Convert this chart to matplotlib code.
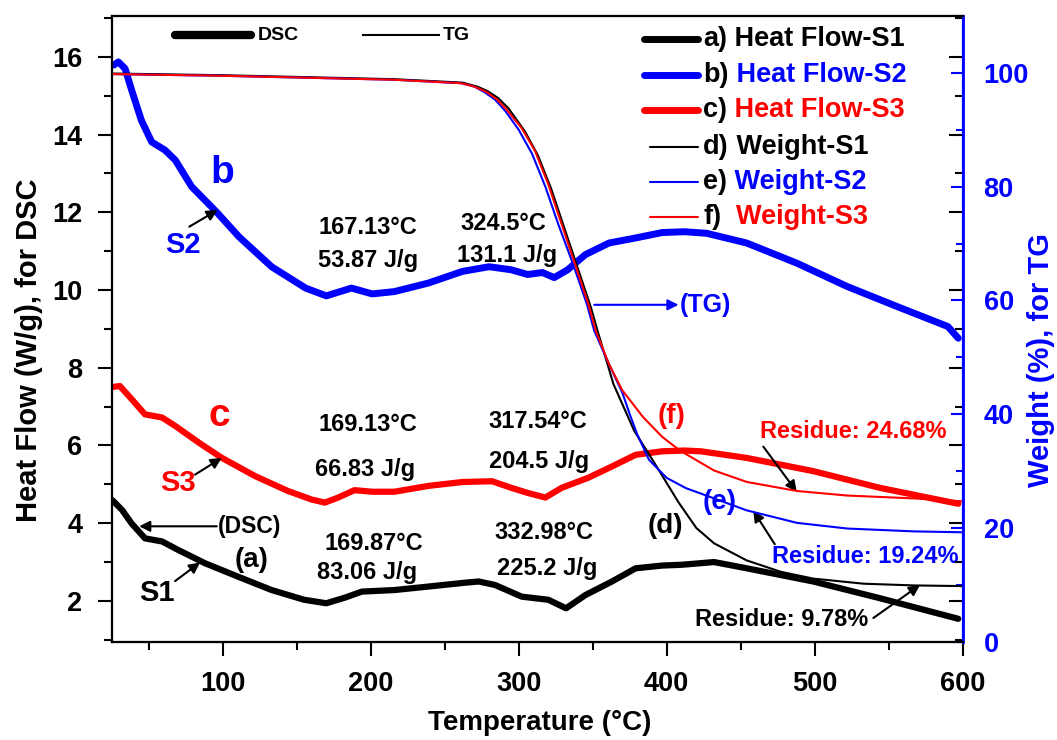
import matplotlib
matplotlib.use('Agg')
import matplotlib.pyplot as plt
from matplotlib.ticker import MultipleLocator

plt.rcParams['font.family'] = ['Liberation Sans', 'DejaVu Sans']
plt.rcParams['font.weight'] = 'bold'
plt.rcParams['axes.labelweight'] = 'bold'

BLUE = '#0000ff'
RED = '#ff0000'

# DSC heat flow (W/g)
t_dsc1 = [25.5, 32, 38.5, 47.5, 59, 70, 88, 110, 133, 155, 170, 183, 194, 216, 239, 264, 273, 284,
          302, 320, 332, 345, 363, 379, 397, 410, 432, 454, 499, 544, 597]
hf_s1 = [4.59, 4.34, 3.99, 3.61, 3.53, 3.31, 2.97, 2.63, 2.28, 2.03, 1.94, 2.09, 2.24, 2.28, 2.37, 2.47, 2.50, 2.41,
         2.11, 2.03, 1.81, 2.15, 2.50, 2.84, 2.91, 2.93, 3.00, 2.84, 2.50, 2.07, 1.54]

t_dsc2 = [26.5, 29.5, 34, 38.5, 45, 52, 61, 68, 79, 96, 111, 133, 156, 170, 187, 201, 216, 239, 262, 280,
          295, 306, 316, 324, 333, 345, 361, 379, 397, 412, 427, 454, 488, 522, 556, 590, 597]
hf_s2 = [15.79, 15.87, 15.70, 15.14, 14.37, 13.81, 13.60, 13.34, 12.66, 12.00, 11.37, 10.60, 10.05, 9.85, 10.05,
         9.90, 9.96, 10.18, 10.48, 10.60, 10.52, 10.40, 10.45, 10.32, 10.52, 10.91, 11.21, 11.34, 11.48, 11.50,
         11.46, 11.21, 10.69, 10.09, 9.57, 9.06, 8.76]

t_dsc3 = [26.5, 30.5, 38.5, 47.5, 59, 68, 84, 99, 122, 144, 160, 169, 178, 189, 201, 216, 239, 262, 282,
          295, 306, 318, 329, 347, 363, 379, 397, 412, 423, 454, 499, 544, 597]
hf_s3 = [7.51, 7.53, 7.19, 6.80, 6.72, 6.50, 6.07, 5.69, 5.21, 4.83, 4.61, 4.53, 4.66, 4.85, 4.81, 4.81, 4.96,
         5.06, 5.08, 4.91, 4.78, 4.66, 4.91, 5.17, 5.46, 5.76, 5.85, 5.87, 5.85, 5.68, 5.34, 4.91, 4.50]

# TG weight (%)
t_tg1 = [25, 100, 216, 262, 272, 279, 286, 293, 304, 313, 322, 331, 340, 349, 353, 364, 378, 392, 408, 420,
         432, 454, 477, 499, 533, 567, 600]
w_s1 = [99.9, 99.6, 98.9, 98.3, 97.6, 96.8, 95.6, 93.8, 89.8, 85.5, 79.6, 72.6, 65.6, 58.6, 54.9, 45.3, 37.1,
        31.3, 24.5, 20.0, 17.3, 14.3, 12.3, 11.1, 10.2, 9.9, 9.78]

t_tg2 = [25, 100, 216, 261, 270, 277, 284, 291, 300, 309, 318, 327, 337, 346, 351, 361, 370, 375, 380, 388,
         400, 413, 432, 454, 488, 522, 567, 600]
w_s2 = [99.8, 99.5, 98.8, 98.2, 97.6, 96.6, 95.3, 93.3, 90.0, 85.8, 80.0, 73.2, 66.2, 59.4, 54.7, 48.8, 43.8,
        40.0, 36.5, 32.0, 28.8, 27.0, 25.2, 23.1, 20.9, 19.9, 19.4, 19.24]

t_tg3 = [25, 100, 216, 261, 270, 278, 285, 292, 302, 311, 320, 329, 338, 347, 352, 361, 370, 384, 397, 409,
         432, 454, 488, 522, 567, 600]
w_s3 = [99.8, 99.5, 98.8, 98.2, 97.6, 96.7, 95.4, 93.5, 90.3, 86.3, 80.4, 73.4, 66.4, 59.4, 54.7, 48.8, 44.2,
        39.5, 36.0, 33.6, 30.1, 28.1, 26.5, 25.7, 25.2, 24.68]

fig = plt.figure(figsize=(10.57, 7.4), dpi=100)
ax = fig.add_axes([0.1057, 0.1328, 0.8051, 0.8455])
ax2 = ax.twinx()
ax3 = ax.twinx()  # mirrored left-axis ticks on the right side

ax.plot(t_dsc1, hf_s1, color='black', lw=4.5, solid_capstyle='round', solid_joinstyle='round')
ax.plot(t_dsc2, hf_s2, color=BLUE, lw=5, solid_capstyle='round', solid_joinstyle='round')
ax.plot(t_dsc3, hf_s3, color=RED, lw=4.5, solid_capstyle='round', solid_joinstyle='round')

ax2.plot(t_tg1, w_s1, color='black', lw=1.5)
ax2.plot(t_tg2, w_s2, color=BLUE, lw=1.5)
ax2.plot(t_tg3, w_s3, color=RED, lw=1.5)

ax.set_xlim(25, 600)
ax.set_ylim(0.95, 17.05)
ax2.set_ylim(0, 110)
ax3.set_ylim(0.95, 17.05)

ax.xaxis.set_major_locator(MultipleLocator(100))
ax.xaxis.set_minor_locator(MultipleLocator(50))
ax.yaxis.set_major_locator(MultipleLocator(2))
ax.yaxis.set_minor_locator(MultipleLocator(1))
ax2.yaxis.set_major_locator(MultipleLocator(20))
ax2.yaxis.set_minor_locator(MultipleLocator(10))
ax3.yaxis.set_major_locator(MultipleLocator(2))
ax3.yaxis.set_minor_locator(MultipleLocator(1))

ax.tick_params(axis='both', which='major', direction='out', length=10, width=1.5, labelsize=19.5)
ax.tick_params(axis='both', which='minor', direction='out', length=6, width=1.5)
ax.tick_params(axis='y', which='major', pad=11)
ax.tick_params(axis='x', which='major', pad=11)
ax.tick_params(right=False, top=False, which='both')
ax2.tick_params(axis='y', which='major', direction='in', length=9, width=1.5, colors=BLUE,
                labelsize=19.5, pad=15)
ax2.tick_params(axis='y', which='minor', direction='in', length=5, width=1.5, colors=BLUE)
ax3.tick_params(axis='y', which='both', direction='in', width=1.5, labelright=False)
ax3.tick_params(axis='y', which='major', length=10)
ax3.tick_params(axis='y', which='minor', length=6)
for a in (ax, ax2, ax3):
    for s in a.spines.values():
        s.set_linewidth(1.5)
    a.spines['right'].set_color(BLUE)
ax2.spines['right'].set_linewidth(2)
ax2.set_zorder(ax3.get_zorder() + 1)

ax.set_xlabel('Temperature (°C)', fontsize=20, va='center')
ax.xaxis.set_label_coords(0.503, -0.13)
ax.set_ylabel('Heat Flow (W/g), for DSC', fontsize=21, va='center')
ax.yaxis.set_label_coords(-0.0975, 0.466)
ax2.set_ylabel('Weight (%), for TG', fontsize=21, color=BLUE, va='center')
ax2.yaxis.set_label_coords(1.092, 0.45)

# DSC / TG key at the top
ax.plot([68, 119], [16.56, 16.56], color='black', lw=6, solid_capstyle='round')
ax.text(124, 16.56, 'DSC', fontsize=14, va='center')
ax.plot([195, 246], [16.56, 16.56], color='black', lw=1.5)
ax.text(249, 16.56, 'TG', fontsize=14, va='center')

# legend on the right, built by hand so the letter and the name can differ in colour
rows = [('a)', ' Heat Flow-S1', 'black', 5), ('b)', ' Heat Flow-S2', BLUE, 5),
        ('c)', ' Heat Flow-S3', RED, 5), ('d)', ' Weight-S1', 'black', 1.5),
        ('e)', ' Weight-S2', BLUE, 1.5), ('f)', '  Weight-S3', RED, 1.5)]
row_y = [0.964, 0.906, 0.850, 0.791, 0.735, 0.679]
for (tag, name, col, lw), y in zip(rows, row_y):
    x0 = 0.626 if lw > 2 else 0.632
    ax.plot([x0, 0.689], [y, y], transform=ax.transAxes, color=col, lw=lw, solid_capstyle='round')
    t1 = ax.text(0.695, y, tag, transform=ax.transAxes, fontsize=19.5, va='center', color='black')
    ax.annotate(name, xy=(1, 0), xycoords=t1, va='bottom', ha='left', fontsize=19.5, color=col)

# annotations
ax.text(100, 13.0, 'b', fontsize=28, color=BLUE, ha='center', va='center')
ax.text(73, 11.16, 'S2', fontsize=21, color=BLUE, ha='center', va='center')
ax.text(98, 6.75, 'c', fontsize=28, color=RED, ha='center', va='center')
ax.text(70, 5.04, 'S3', fontsize=21, color=RED, ha='center', va='center')
ax.text(55.4, 2.21, 'S1', fontsize=21, color='black', ha='center', va='center')
ax.text(119.6, 3.06, '(a)', fontsize=20, ha='center', va='center')
ax.text(398.8, 3.92, '(d)', fontsize=20, ha='center', va='center')
ax.text(403.4, 6.75, '(f)', fontsize=20, color=RED, ha='center', va='center')
ax.text(436, 4.54, '(e)', fontsize=20, color=BLUE, ha='center', va='center')

peak_labels = [('167.13°C', 198, 11.60), ('53.87 J/g', 198, 10.77),
               ('324.5°C', 289.6, 11.72), ('131.1 J/g', 291.9, 10.90),
               ('169.13°C', 198.4, 6.53), ('66.83 J/g', 196.2, 5.39),
               ('317.54°C', 312.8, 6.62), ('204.5 J/g', 313.7, 5.59),
               ('169.87°C', 201.8, 3.49), ('83.06 J/g', 197.8, 2.73),
               ('332.98°C', 317.3, 3.77), ('225.2 J/g', 318.9, 2.84)]
for s, x, y in peak_labels:
    ax.text(x, y, s, fontsize=17, ha='center', va='center')

ax.text(525.7, 6.36, 'Residue: 24.68%', fontsize=17, color=RED, ha='center', va='center')
ax.text(534, 3.14, 'Residue: 19.24%', fontsize=17, color=BLUE, ha='center', va='center')
ax.text(477.7, 1.52, 'Residue: 9.78%', fontsize=17, color='black', ha='center', va='center')

arrow = dict(arrowstyle='-|>', color='black', lw=1.5, mutation_scale=16, shrinkA=0, shrinkB=0)
for tail, head in [((77.4, 11.63), (96.6, 12.06)), ((81.3, 5.25), (99.3, 5.68)),
                   ((67.8, 2.51), (84.7, 2.99)), ((465.3, 5.97), (487.8, 4.81)),
                   ((473, 3.46), (458.5, 4.32)), ((539.6, 1.56), (571.1, 2.41)),
                   ((96, 3.92), (43.5, 3.92))]:
    ax.annotate('', xy=head, xytext=tail, arrowprops=arrow)
ax.text(96.5, 3.92, '(DSC)', fontsize=16.5, ha='left', va='center')

ax.annotate('', xy=(408, 9.62), xytext=(351, 9.62),
            arrowprops=dict(arrowstyle='-|>', color=BLUE, lw=1.5, mutation_scale=16, shrinkA=0, shrinkB=0))
ax.text(409, 9.62, '(TG)', fontsize=18, color=BLUE, ha='left', va='center')

fig.savefig('out.png', dpi=100)
